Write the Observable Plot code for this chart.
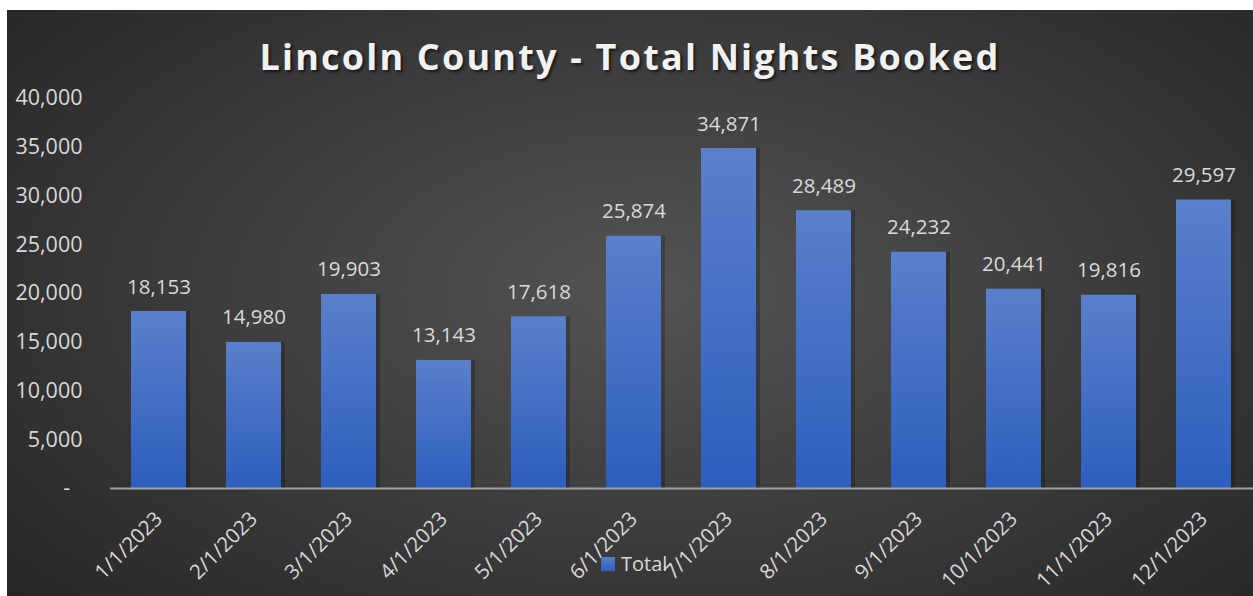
<!DOCTYPE html>
<html><head><meta charset="utf-8">
<script src="https://cdn.jsdelivr.net/npm/d3@7"></script>
<script src="https://cdn.jsdelivr.net/npm/@observablehq/plot@0.6"></script>
<style>
html,body{margin:0;padding:0;background:#fff;width:1253px;height:596px;overflow:hidden;position:relative;}
#bg{position:absolute;left:7px;top:10px;width:1246px;height:586px;
  background:radial-gradient(ellipse 70% 80% at 52% 48%, #545454 0%, #3d3d3d 50%, #262626 100%);}
#title{position:absolute;left:0;top:39px;width:1260px;text-align:center;font-family:"Open Sans",sans-serif;
  font-weight:700;font-size:36px;line-height:36px;letter-spacing:2.2px;color:#f2f2f2;text-shadow:2px 2px 3px rgba(0,0,0,0.6);}
#chart{position:absolute;left:0;top:10px;}
#legend{position:absolute;left:601px;top:550px;font-family:"Open Sans",sans-serif;font-size:20px;color:#d9d9d9;display:flex;align-items:center;}
#legend .sw{width:14px;height:14px;background:linear-gradient(#5b80cb,#2d5ebe);margin-right:6px;}
</style></head>
<body>
<div id="bg"></div>
<div id="title">Lincoln County - Total Nights Booked</div>
<div id="chart"></div>
<div id="legend"><span class="sw"></span><span>Total</span></div>
<script>
const dates = ["1/1/2023","2/1/2023","3/1/2023","4/1/2023","5/1/2023","6/1/2023","7/1/2023","8/1/2023","9/1/2023","10/1/2023","11/1/2023","12/1/2023"];
const values = [18153,14980,19903,13143,17618,25874,34871,28489,24232,20441,19816,29597];
const yTicks = [0,5000,10000,15000,20000,25000,30000,35000,40000];
const seriesName = "Total";

const data = dates.map((d,i)=>({date:d, value:values[i]}));
const fmt = d3.format(",");

const svg = Plot.plot({
  width:1253, height:586,
  marginLeft:110, marginRight:0, marginTop:88, marginBottom:108,
  style:{background:"transparent", color:"#d9d9d9", fontFamily:"'Open Sans', sans-serif", fontSize:"21.5px"},
  x:{domain:dates, paddingInner:0.42, paddingOuter:0.21, label:null},
  y:{domain:[0,40000], ticks:yTicks, label:null},
  marks:[
    Plot.axisY({ticks:yTicks, tickSize:0, tickPadding:28, label:null,
      tickFormat:d => d === 0 ? "-\u2007" : fmt(d)}),
    Plot.axisX({tickSize:0, tickRotate:-45, tickPadding:27, label:null, fontSize:20.5}),
    Plot.barY(data,{x:"date", y:"value", fill:"black", fillOpacity:0.22, dx:4}),
    Plot.barY(data,{x:"date", y:"value", fill:"url(#barGrad)"}),
    Plot.ruleY([0],{stroke:"#b5b5b5", strokeWidth:2, strokeOpacity:0.85}),
    Plot.text(data,{x:"date", y:"value", text:d=>fmt(d.value), dy:-18, lineAnchor:"bottom", fill:"#d9d9d9", fontSize:20.5})
  ]
});
d3.select(svg).insert("defs", ":first-child").html(
  `<linearGradient id="barGrad" x1="0" y1="0" x2="0" y2="1">
     <stop offset="0" stop-color="#5b80cb"/>
     <stop offset="1" stop-color="#2d5ebe"/>
   </linearGradient>`);
document.getElementById("chart").appendChild(svg);
</script>
</body></html>
